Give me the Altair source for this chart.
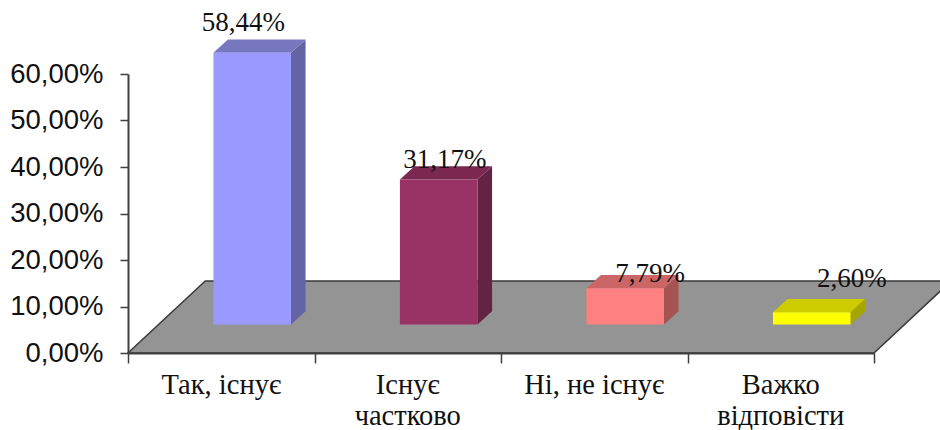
import altair as alt
import pandas as pd

# Survey shares, one bar per answer
categories = ["Так, існує", "Існує частково", "Ні, не існує", "Важко відповісти"]
axis_text = ["Так, існує", "Існує\nчастково", "Ні, не існує", "Важко\nвідповісти"]
values = [58.44, 31.17, 7.79, 2.60]
value_text = ["58,44%", "31,17%", "7,79%", "2,60%"]

# Face colours of each bar
front_colors = ["#9999FF", "#993366", "#FF8080", "#FFFF00"]
top_colors = ["#7777C0", "#7A2850", "#CC6666", "#CCCC00"]
side_colors = ["#6363A6", "#632342", "#A65353", "#A6A600"]

# Oblique projection, in axis units (categories along x, percent along y)
FLOOR_DX, FLOOR_DY = 0.414, 15.5
BAR_SHIFT, BAR_LIFT = 0.166, 6.15
BAR_WIDTH = 0.416
DEPTH_DX, DEPTH_DY = 0.078, 2.85
# Hand placement of the value captions relative to the bar's front centre
CAPTION_NUDGE_X = [-0.047, 0.033, 0.134, 0.215]
CAPTION_Y = [69.3, 39.8, 15.2, 14.3]

rows = []
for i, (cat, v) in enumerate(zip(categories, values)):
    left = i + 0.5 + BAR_SHIFT - BAR_WIDTH / 2
    right = left + BAR_WIDTH
    rows.append(dict(cat=cat, left=left, right=right, base=BAR_LIFT, top=BAR_LIFT + v,
                     cap_x=i + 0.5 + BAR_SHIFT + CAPTION_NUDGE_X[i], cap_y=CAPTION_Y[i],
                     caption=value_text[i], mid=i + 0.5, axis_text=axis_text[i]))
bars = pd.DataFrame(rows)

# Side and top faces as two-point ribbons running from front edge to back edge
side = pd.concat([
    bars.assign(sx=bars.right, sy=bars.base, sy2=bars.top),
    bars.assign(sx=bars.right + DEPTH_DX, sy=bars.base + DEPTH_DY, sy2=bars.top + DEPTH_DY),
])
lid = pd.concat([
    bars.assign(ly=bars.top, lx=bars.left, lx2=bars.right),
    bars.assign(ly=bars.top + DEPTH_DY, lx=bars.left + DEPTH_DX, lx2=bars.right + DEPTH_DX),
])
floor = pd.DataFrame({"fy": [0, FLOOR_DY], "fx": [0, FLOOR_DX], "fx2": [4, 4 + FLOOR_DX]})

x_scale = alt.Scale(domain=[0, 4], nice=False, zero=False)
y_scale = alt.Scale(domain=[0, 60], nice=False, zero=False)
AXIS_COLOR = "#3f3f3f"


def X(field):
    return alt.X(field, type="quantitative", scale=x_scale, title=None, axis=alt.Axis(
        values=[0, 1, 2, 3, 4], labels=False, grid=False, tickSize=10, tickWidth=1.5,
        tickColor=AXIS_COLOR, domainColor=AXIS_COLOR, domainWidth=2, zindex=1))


def Y(field):
    return alt.Y(field, type="quantitative", scale=y_scale, title=None, axis=alt.Axis(
        values=[0, 10, 20, 30, 40, 50, 60], grid=False, tickSize=8, tickWidth=1.5,
        tickColor=AXIS_COLOR, domainColor=AXIS_COLOR, domainWidth=2, zindex=1,
        labelFont="Liberation Sans", labelFontSize=27.5, labelColor="#111111", labelPadding=17,
        labelExpr="replace(format(datum.value, '.2f'), '.', ',') + '%'"))


def face(palette):
    return alt.Color("cat:N", scale=alt.Scale(domain=categories, range=palette), legend=None)


floor_layer = alt.Chart(floor).mark_area(
    orient="horizontal", color="#949494", stroke="#3a3a3a", strokeWidth=1.5
).encode(y=Y("fy"), x=X("fx"), x2=alt.X2("fx2"))

side_layer = alt.Chart(side).mark_area(orient="vertical").encode(
    x=X("sx"), y=Y("sy"), y2=alt.Y2("sy2"), color=face(side_colors))

lid_layer = alt.Chart(lid).mark_area(orient="horizontal").encode(
    y=Y("ly"), x=X("lx"), x2=alt.X2("lx2"), color=face(top_colors))

front_layer = alt.Chart(bars).mark_rect().encode(
    x=X("left"), x2=alt.X2("right"), y=Y("base"), y2=alt.Y2("top"), color=face(front_colors))

caption_layer = alt.Chart(bars).mark_text(
    font="Liberation Serif", fontSize=27, color="#111111", align="center", baseline="alphabetic"
).encode(x=X("cap_x"), y=Y("cap_y"), text="caption:N")

category_layer = alt.Chart(bars).mark_text(
    font="Liberation Serif", fontSize=28.5, color="#111111", align="center", baseline="alphabetic",
    lineBreak="\n", lineHeight=31, dy=41
).encode(x=X("mid"), y=alt.datum(0, scale=y_scale), text="axis_text:N")

# Each face group keeps its own colour scale
chart = alt.layer(
    floor_layer, side_layer, lid_layer, front_layer, caption_layer, category_layer
).resolve_scale(color="independent").properties(
    width=746, height=279,
    autosize=alt.AutoSizeParams(type="none"),
    padding={"left": 128, "top": 74, "right": 66, "bottom": 77},
    background="white",
).configure_view(stroke=None)

chart.save("out.html", embed_options={"renderer": "svg", "actions": False})
